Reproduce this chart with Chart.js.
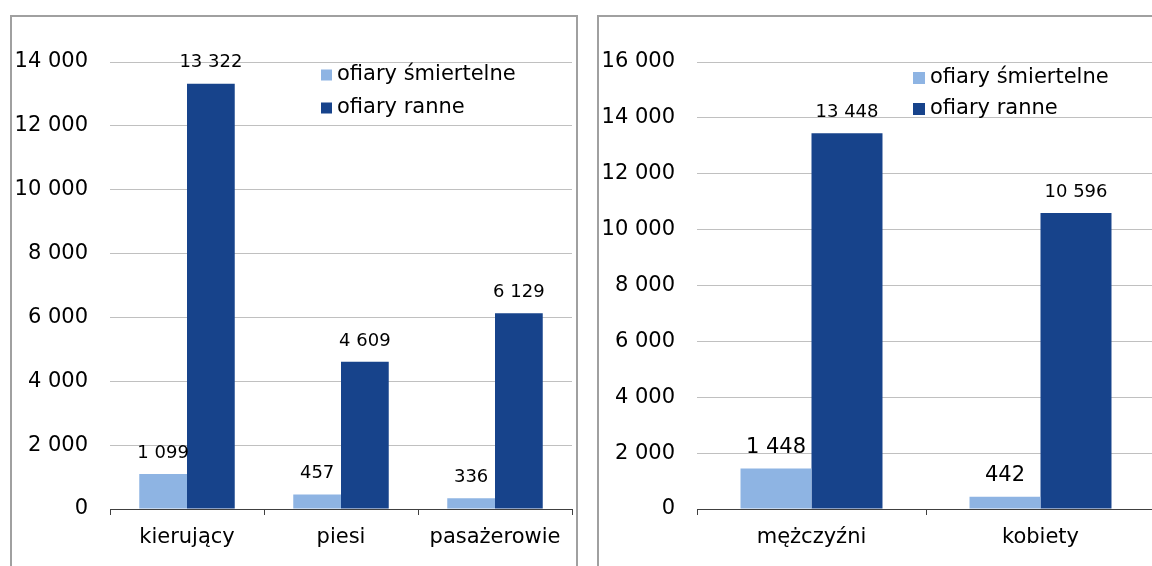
<!DOCTYPE html>
<html>
<head>
<meta charset="utf-8">
<script src="https://cdn.jsdelivr.net/npm/chart.js@4/dist/chart.umd.min.js"></script>
<style>
  html, body { margin: 0; padding: 0; background: #fff; overflow: hidden; width: 1152px; height: 566px; }
  .ramka { position: absolute; top: 15px; border: 2px solid #a0a0a0; width: 564px; height: 600px; }
  #r1 { left: 10px; }
  #r2 { left: 597px; }
  canvas { display: block; }
</style>
</head>
<body>
<div class="ramka" id="r1"><canvas id="wykres1" width="564" height="552"></canvas></div>
<div class="ramka" id="r2"><canvas id="wykres2" width="564" height="552"></canvas></div>
<script>
// dane - uczestnicy ruchu
const kategorieUczestnicy = ['kierujący', 'piesi', 'pasażerowie'];
const smiertelneUczestnicy = [1099, 457, 336];
const ranneUczestnicy = [13322, 4609, 6129];
const osYUczestnicy = [0, 2000, 4000, 6000, 8000, 10000, 12000, 14000];

// dane - płeć
const kategoriePlec = ['mężczyźni', 'kobiety'];
const smiertelnePlec = [1448, 442];
const rannePlec = [13448, 10596];
const osYPlec = [0, 2000, 4000, 6000, 8000, 10000, 12000, 14000, 16000];

const nazwySerii = ['ofiary śmiertelne', 'ofiary ranne'];
const kolory = ['#8eb4e3', '#17438b'];
const FONT = '"DejaVu Sans", Verdana, sans-serif';

// 13322 -> "13 322"
function fmt(v) {
  return String(v).replace(/\B(?=(\d{3})+(?!\d))/g, ' ');
}

// etykiety nad słupkami
const etykietyPlugin = {
  id: 'etykiety',
  afterDatasetsDraw(chart, args, opts) {
    const ctx = chart.ctx;
    chart.data.datasets.forEach((ds, i) => {
      const meta = chart.getDatasetMeta(i);
      ctx.save();
      ctx.font = opts.rozmiary[i] + 'px ' + FONT;
      ctx.fillStyle = '#000';
      ctx.textAlign = 'center';
      ctx.textBaseline = 'middle';
      meta.data.forEach((bar, j) => {
        ctx.fillText(fmt(ds.data[j]), bar.x, bar.y - opts.odstep);
      });
      ctx.restore();
    });
  }
};

// legenda wewnątrz wykresu
const legendaPlugin = {
  id: 'legenda',
  afterDraw(chart, args, opts) {
    const ctx = chart.ctx;
    ctx.save();
    ctx.font = '21px ' + FONT;
    ctx.textBaseline = 'middle';
    chart.data.datasets.forEach((ds, i) => {
      const y = opts.y + i * opts.krok;
      ctx.fillStyle = ds.backgroundColor;
      ctx.fillRect(opts.x, y - opts.kw / 2, opts.kw, opts.kw);
      ctx.fillStyle = '#000';
      ctx.fillText(ds.label, opts.x + opts.kw + 5, y);
    });
    ctx.restore();
  }
};

function rysuj(id, kategorie, smiertelne, ranne, ticksY, prawy, etykiety, legenda) {
  new Chart(document.getElementById(id), {
    type: 'bar',
    data: {
      labels: kategorie,
      datasets: [
        { label: nazwySerii[0], data: smiertelne, backgroundColor: kolory[0] },
        { label: nazwySerii[1], data: ranne, backgroundColor: kolory[1] }
      ]
    },
    plugins: [etykietyPlugin, legendaPlugin],
    options: {
      responsive: false,
      animation: false,
      categoryPercentage: 0.62,
      barPercentage: 1,
      layout: { padding: { left: 0, right: prawy, top: 45, bottom: 0 } },
      plugins: {
        legend: { display: false },
        tooltip: { enabled: false },
        etykiety: etykiety,
        legenda: legenda
      },
      scales: {
        x: {
          afterFit(s) { s.height = 60; },
          border: { display: true, color: '#404040', width: 1 },
          grid: { display: true, drawOnChartArea: false, drawTicks: true, tickLength: 6, color: '#404040' },
          ticks: { color: '#000', font: { family: FONT, size: 21 }, padding: 10 }
        },
        y: {
          min: ticksY[0],
          max: ticksY[ticksY.length - 1],
          afterFit(s) { s.width = 98; },
          afterBuildTicks(s) { s.ticks = ticksY.map(v => ({ value: v })); },
          border: { display: false },
          grid: { color: '#c0c0c0', drawTicks: false, lineWidth: 1 },
          ticks: { color: '#000', font: { family: FONT, size: 21 }, padding: 22, callback: v => fmt(v) }
        }
      }
    }
  });
}

rysuj('wykres1', kategorieUczestnicy, smiertelneUczestnicy, ranneUczestnicy, osYUczestnicy, 4,
  { rozmiary: [18, 18], odstep: 21 },
  { x: 309, y: 58, krok: 33, kw: 11 });

rysuj('wykres2', kategoriePlec, smiertelnePlec, rannePlec, osYPlec, 8,
  { rozmiary: [21, 18], odstep: 21 },
  { x: 314, y: 61, krok: 31, kw: 12 });
</script>
</body>
</html>
